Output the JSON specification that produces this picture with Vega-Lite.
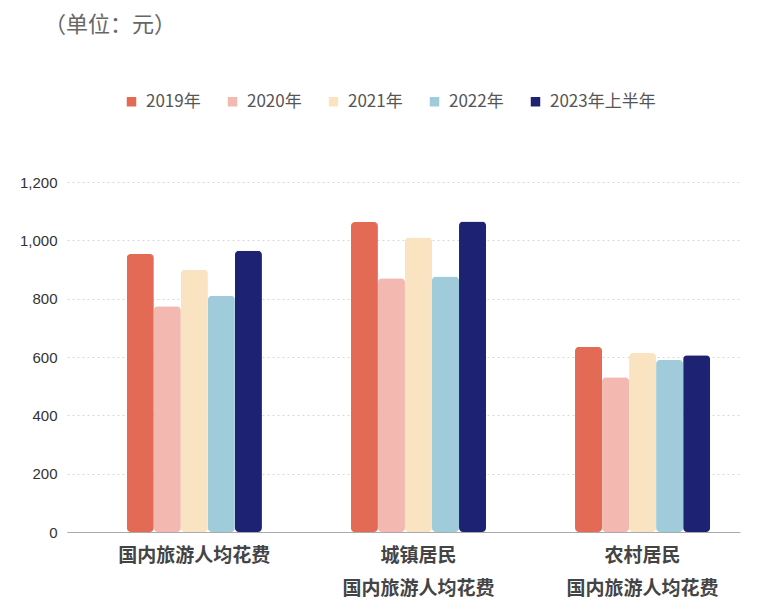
{
  "$schema": "https://vega.github.io/schema/vega-lite/v6.json",
  "autosize": {"type": "none"},
  "width": 673,
  "height": 350,
  "padding": {"left": 67, "top": 182, "right": 40, "bottom": 77},
  "background": "white",
  "title": {
    "text": "（单位：元）",
    "anchor": "start",
    "frame": "group",
    "offset": 56,
    "dx": -23,
    "font": "Noto Sans CJK SC",
    "fontSize": 22,
    "fontWeight": "normal",
    "color": "#666666"
  },
  "data": {
    "values": [
      {"cat": "国内旅游人均花费", "series": "2019年", "value": 953.3},
      {"cat": "国内旅游人均花费", "series": "2020年", "value": 774.1},
      {"cat": "国内旅游人均花费", "series": "2021年", "value": 899.3},
      {"cat": "国内旅游人均花费", "series": "2022年", "value": 809.6},
      {"cat": "国内旅游人均花费", "series": "2023年上半年", "value": 964.7},
      {"cat": "城镇居民|国内旅游人均花费", "series": "2019年", "value": 1062.6},
      {"cat": "城镇居民|国内旅游人均花费", "series": "2020年", "value": 870.3},
      {"cat": "城镇居民|国内旅游人均花费", "series": "2021年", "value": 1009.6},
      {"cat": "城镇居民|国内旅游人均花费", "series": "2022年", "value": 876},
      {"cat": "城镇居民|国内旅游人均花费", "series": "2023年上半年", "value": 1065},
      {"cat": "农村居民|国内旅游人均花费", "series": "2019年", "value": 634.7},
      {"cat": "农村居民|国内旅游人均花费", "series": "2020年", "value": 530.5},
      {"cat": "农村居民|国内旅游人均花费", "series": "2021年", "value": 613.6},
      {"cat": "农村居民|国内旅游人均花费", "series": "2022年", "value": 590},
      {"cat": "农村居民|国内旅游人均花费", "series": "2023年上半年", "value": 606}
    ]
  },
  "mark": {"type": "bar", "cornerRadius": 4},
  "encoding": {
    "x": {
      "field": "cat",
      "type": "nominal",
      "sort": null,
      "scale": {"paddingInner": 0.397, "paddingOuter": 0.2, "align": 0.667},
      "axis": {
        "title": null,
        "labelAngle": 0,
        "labelExpr": "split(datum.label, '|')",
        "labelFont": "Noto Sans CJK SC",
        "labelFontSize": 19,
        "labelFontWeight": "bold",
        "labelColor": "#444444",
        "labelLineHeight": 33,
        "labelPadding": 14,
        "labelBaseline": "top",
        "ticks": false,
        "domainColor": "#aaaaaa",
        "domainWidth": 1,
        "grid": false
      }
    },
    "xOffset": {
      "field": "series",
      "type": "nominal",
      "sort": ["2019年", "2020年", "2021年", "2022年", "2023年上半年"],
      "scale": {"paddingInner": 0, "paddingOuter": 0}
    },
    "y": {
      "field": "value",
      "type": "quantitative",
      "scale": {"domain": [0, 1200]},
      "axis": {
        "title": null,
        "values": [0, 200, 400, 600, 800, 1000, 1200],
        "format": ",.0f",
        "domain": false,
        "ticks": false,
        "labelPadding": 10,
        "labelFont": "Liberation Sans",
        "labelFontSize": 15,
        "labelColor": "#333333",
        "gridColor": "#d8d8d8",
        "gridDash": [2, 3],
        "gridWidth": 1
      }
    },
    "color": {
      "field": "series",
      "type": "nominal",
      "sort": ["2019年", "2020年", "2021年", "2022年", "2023年上半年"],
      "scale": {
        "domain": ["2019年", "2020年", "2021年", "2022年", "2023年上半年"],
        "range": ["#E36B55", "#F3B8AF", "#FAE3C1", "#A0CBDA", "#1E2272"]
      },
      "legend": {
        "title": null,
        "orient": "none",
        "direction": "horizontal",
        "legendX": 56,
        "legendY": -89,
        "symbolType": "square",
        "symbolSize": 90,
        "symbolStrokeWidth": 0,
        "labelFont": "Noto Sans CJK SC",
        "labelFontSize": 17,
        "labelColor": "#555555",
        "labelOffset": 6,
        "columnPadding": 23
      }
    }
  },
  "config": {"view": {"stroke": null}}
}
